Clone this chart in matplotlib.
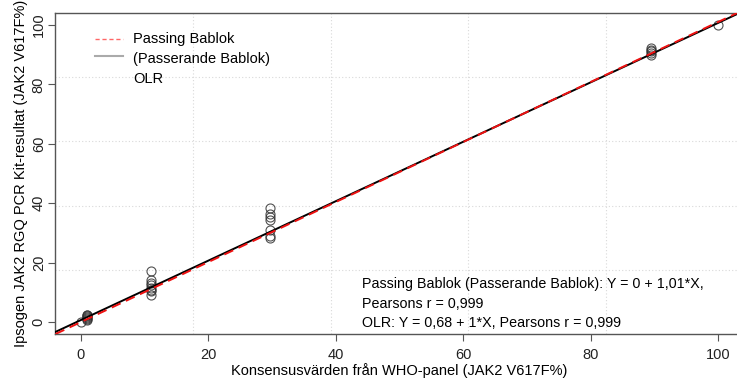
import numpy as np
import matplotlib.pyplot as plt
from matplotlib.lines import Line2D

plt.rcParams['font.family'] = ['Liberation Sans', 'DejaVu Sans']

# measured points (WHO panel consensus vs kit result)
who_x = [0, 1, 1, 1, 1, 1, 1, 1,
         11, 11, 11, 11, 11, 11, 11, 11,
         29.7, 29.7, 29.7, 29.7, 29.7, 29.7, 29.7,
         89.5, 89.5, 89.5, 89.5, 89.5, 100]
kit_y = [0, 0.8, 1.0, 1.3, 1.6, 1.9, 2.2, 2.5,
         17.3, 14.0, 13.0, 12.3, 11.5, 10.8, 10.3, 9.1,
         38.5, 36.2, 35.2, 34.4, 31.0, 29.0, 28.3,
         90.0, 90.6, 91.2, 91.7, 92.1, 100]

pb_intercept, pb_slope = 0.0, 1.01
olr_intercept, olr_slope = 0.68, 1.0

ticks = [0, 20, 40, 60, 80, 100]
xlim = (-4, 104)
ylim = (-4, 104)

fig = plt.figure(figsize=(7.37, 3.81), dpi=100)
ax = fig.add_axes([0.0753, 0.1236, 0.9335, 0.842])

# R-style grid(5, 5): equal divisions of the plot region
for gx in np.linspace(xlim[0], xlim[1], 6)[1:-1]:
    ax.axvline(gx, color="#d9d9d9", lw=0.8, ls=(0, (1, 2)), zorder=0)
for gy in np.linspace(ylim[0], ylim[1], 6)[1:-1]:
    ax.axhline(gy, color="#d9d9d9", lw=0.8, ls=(0, (1, 2)), zorder=0)

ax.plot(who_x, kit_y, "o", ms=6.5, mfc="none", mec="#333333", mew=0.8, alpha=0.85, zorder=3)

xx = np.array(xlim)
ax.plot(xx, olr_intercept + olr_slope * xx, "-", color="black", lw=1.4, zorder=4)
ax.plot(xx, pb_intercept + pb_slope * xx, "--", color="#ee1111", lw=1.4, dashes=(5, 3), zorder=5)

ax.set_xlim(*xlim)
ax.set_ylim(*ylim)
ax.set_xticks(ticks)
ax.set_yticks(ticks)
ax.tick_params(axis="both", direction="out", length=5, width=0.8, color="#555555",
               labelsize=10.5, labelcolor="#222222")
ax.tick_params(axis="x", pad=5)
ax.tick_params(axis="y", pad=2)
for lab in ax.get_yticklabels():
    lab.set_rotation(90)
    lab.set_va("center")

for s in ["left", "bottom", "top"]:
    ax.spines[s].set_color("#555555")
    ax.spines[s].set_linewidth(1.0)
ax.spines["right"].set_visible(False)

ax.set_xlabel("Konsensusvärden från WHO-panel (JAK2 V617F%)", fontsize=10.5, labelpad=1)
ax.set_ylabel("Ipsogen JAK2 RGQ PCR Kit-resultat (JAK2 V617F%)", fontsize=10.5, labelpad=3)

# legend drawn by hand
tr = ax.transAxes
ax.add_line(Line2D([0.058, 0.098], [0.918, 0.918], transform=tr, color="#ff6666",
                   lw=1.0, ls=(0, (3, 2))))
ax.add_line(Line2D([0.058, 0.098], [0.865, 0.865], transform=tr, color="#aaaaaa", lw=1.5))
ax.text(0.113, 0.918, "Passing Bablok", transform=tr, fontsize=10.5, va="center")
ax.text(0.113, 0.856, "(Passerande Bablok)", transform=tr, fontsize=10.5, va="center")
ax.text(0.113, 0.796, "OLR", transform=tr, fontsize=10.5, va="center")

ax.text(0.445, 0.155, "Passing Bablok (Passerande Bablok): Y = 0 + 1,01*X,", transform=tr,
        fontsize=10.3, va="center")
ax.text(0.445, 0.094, "Pearsons r = 0,999", transform=tr, fontsize=10.3, va="center")
ax.text(0.445, 0.034, "OLR: Y = 0,68 + 1*X, Pearsons r = 0,999", transform=tr,
        fontsize=10.3, va="center")

fig.savefig("out.png", dpi=100)
